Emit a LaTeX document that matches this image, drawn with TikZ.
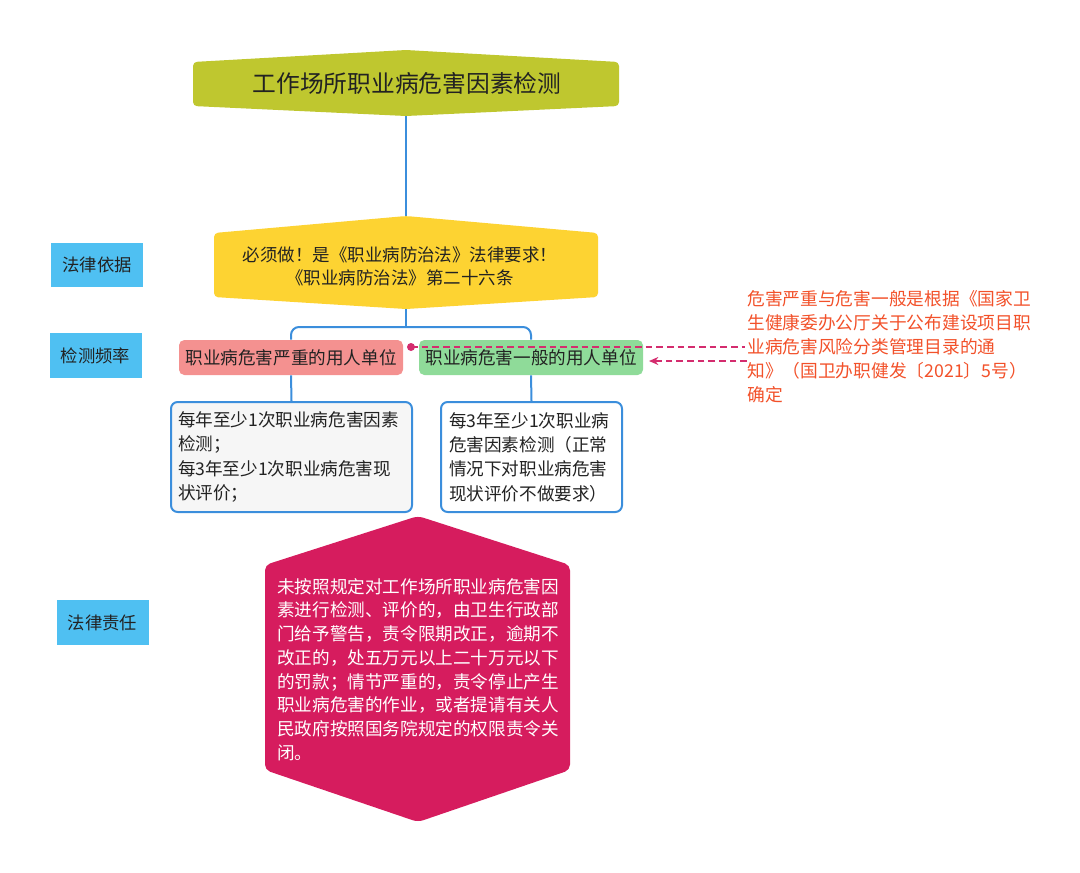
\documentclass[tikz,border=0pt]{standalone}
\usepackage{fontspec}
\setmainfont{Noto Sans CJK SC}
\usetikzlibrary{arrows.meta}
\definecolor{titlec}{HTML}{BFC72F}
\definecolor{yellowc}{HTML}{FDD332}
\definecolor{redc}{HTML}{F49190}
\definecolor{greenc}{HTML}{8FDB99}
\definecolor{labelc}{HTML}{4FC0F2}
\definecolor{magc}{HTML}{D61C5E}
\definecolor{connc}{HTML}{3B8EDC}
\definecolor{notec}{HTML}{F2512A}
\definecolor{dashc}{HTML}{D42C6E}
\definecolor{detailc}{HTML}{F6F6F6}
\definecolor{textc}{HTML}{222222}
\tikzset{
  conn/.style={draw=connc, line width=1.5pt},
  labelbox/.style={fill=labelc, minimum width=69pt, minimum height=33.5pt, inner sep=0pt, text=textc, font=\fontsize{13}{16}\selectfont},
  unitbox/.style={rounded corners=4pt, minimum width=168pt, minimum height=26.25pt, inner sep=0pt, text=textc, font=\fontsize{13.2}{16}\selectfont},
  detailbox/.style={draw=connc, line width=1.5pt, rounded corners=5pt, minimum height=82.5pt, align=left, text=textc, font=\fontsize{13.2}{18.3}\selectfont},
  dashline/.style={draw=dashc, line width=1.4pt, dash pattern=on 5pt off 3pt},
}
\begin{document}
\begin{tikzpicture}[x=0.75pt,y=-0.75pt]
\useasboundingbox (0,0) rectangle (1080,872);
% title
\fill[titlec, rounded corners=3pt] (193,62) -- (406,50) -- (619,62) -- (619,106) -- (406,116) -- (193,106) -- cycle;
\node[text=textc, font=\fontsize{17.8}{20}\selectfont] (title) at (407,83) {工作场所职业病危害因素检测};
\coordinate (tbot) at (406,116);
% legal basis
\fill[yellowc, rounded corners=3pt] (214,233) -- (406,216) -- (598,233) -- (598,297) -- (406,309) -- (214,297) -- cycle;
\node[align=center, text=textc, font=\fontsize{13.1}{17.3}\selectfont] (basis) at (400,266.5) {必须做！是《职业病防治法》法律要求！\\《职业病防治法》第二十六条};
\coordinate (ytop) at (406,216);
\coordinate (ybot) at (406,309);
\coordinate (split) at (406,327);
\draw[conn] (tbot) -- (ytop);
% units
\node[unitbox, fill=redc] (red) at (291,357.5) {职业病危害严重的用人单位};
\node[unitbox, fill=greenc] (green) at (531,357.5) {职业病危害一般的用人单位};
\draw[conn] (ybot) -- (split);
\draw[conn, rounded corners=6pt] (red.north) |- (split) -| (green.north);
% details
\node[detailbox, fill=detailc, text width=170.25pt, inner xsep=5.25pt] (ldet) at (291.5,457) {每年至少1次职业病危害因素\\检测；\\每3年至少1次职业病危害现\\状评价；};
\node[detailbox, fill=white, text width=123.75pt, inner xsep=6pt] (rdet) at (531.5,457) {每3年至少1次职业病\\危害因素检测（正常\\情况下对职业病危害\\现状评价不做要求）};
\draw[conn] (red.south) -- (ldet.north);
\draw[conn] (green.south) -- (rdet.north);
% legal liability
\fill[magc, rounded corners=4pt] (265,565) -- (418,516) -- (570,565) -- (570,770) -- (418,822) -- (265,770) -- cycle;
\node[anchor=north west, inner sep=0pt, align=left, text=white, font=\fontsize{13.2}{17.8}\selectfont] (liab) at (277,578) {未按照规定对工作场所职业病危害因\\素进行检测、评价的，由卫生行政部\\门给予警告，责令限期改正，逾期不\\改正的，处五万元以上二十万元以下\\的罚款；情节严重的，责令停止产生\\职业病危害的作业，或者提请有关人\\民政府按照国务院规定的权限责令关\\闭。};
% labels
\node[labelbox] (l1) at (97,265) {法律依据};
\node[labelbox] (l2) at (95.5,355.5) {检测频率};
\node[labelbox] (l3) at (102.5,622.5) {法律责任};
% note
\node[anchor=north west, inner sep=0pt, align=left, text=notec, font=\fontsize{13.3}{18}\selectfont] (note) at (747,290.5) {危害严重与危害一般是根据《国家卫\\生健康委办公厅关于公布建设项目职\\业病危害风险分类管理目录的通\\知》（国卫办职健发〔2021〕5号）\\确定};
\coordinate (d1s) at (411,347);
\coordinate (d1e) at (745,347);
\coordinate (d2s) at (747,361);
\coordinate (d2e) at (649,361);
\draw[dashline] (d1s) -- (d1e);
\fill[dashc] (d1s) circle (3pt);
\draw[dashline, -{Stealth[length=7pt,width=6pt]}] (d2s) -- (d2e);
\end{tikzpicture}
\end{document}
